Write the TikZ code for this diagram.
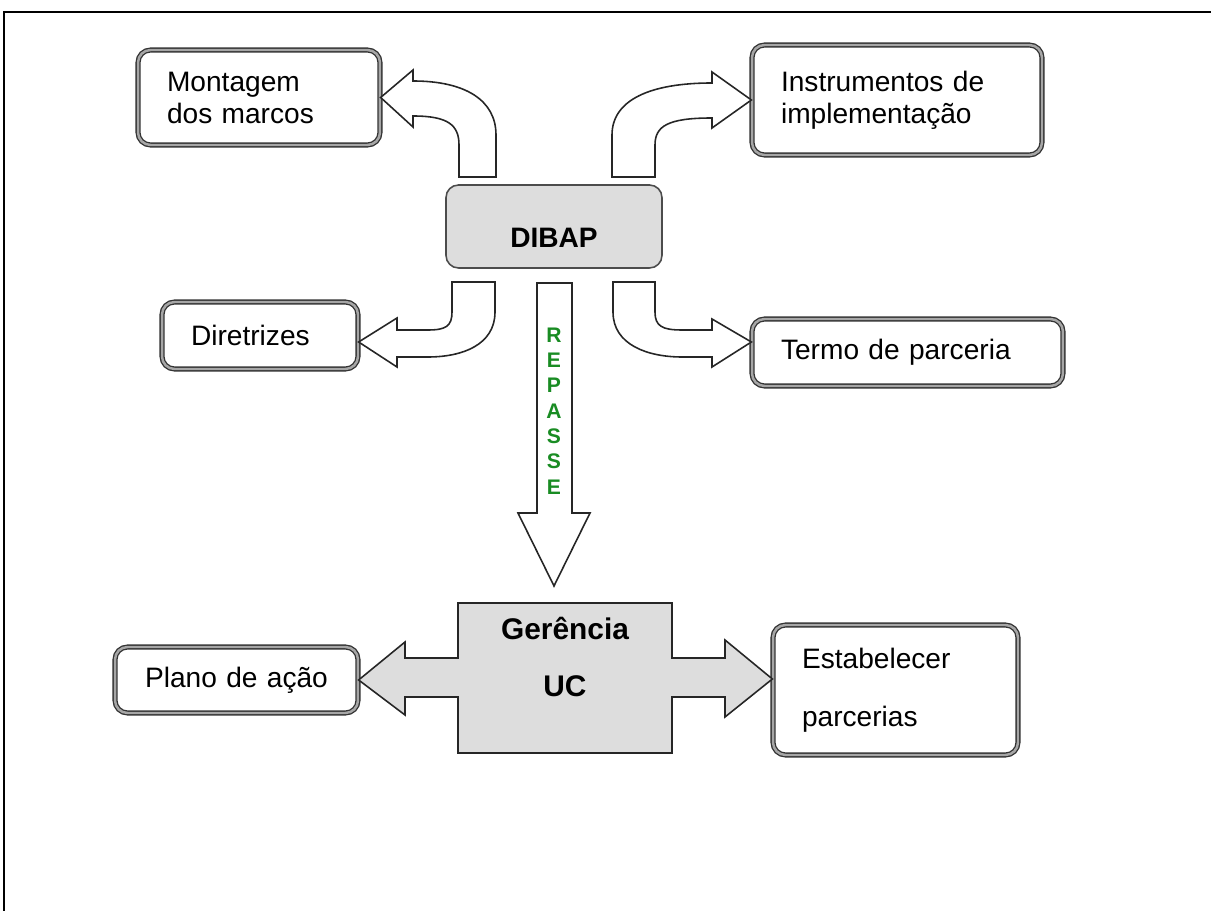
\documentclass[tikz,border=0pt]{standalone}
\usepackage{fontspec}
\setmainfont{Liberation Sans}
\usetikzlibrary{calc}
\definecolor{lgray}{RGB}{221,221,221}
\definecolor{rgreen}{RGB}{25,140,35}

\begin{document}
\begin{tikzpicture}[x=0.02cm, y=-0.02cm,
    box/.style={draw=black!80, double=gray!70, double distance=1.4pt, line width=0.75pt, fill=white, rounded corners=0.25cm, inner xsep=0.58cm, inner ysep=0pt, font=\fontsize{16}{18.2}\selectfont, align=left},
    hub/.style={draw=black!70, line width=0.9pt, fill=lgray, rounded corners=0.25cm, font=\bfseries\fontsize{16}{18.2}\selectfont},
    bent/.style={draw=black!85, line width=0.9pt, fill=white},
    cross/.style={draw=black!85, line width=0.9pt, fill=lgray},
    rep/.style={text=rgreen, align=center, font=\bfseries\fontsize{12}{14.4}\selectfont},
]
\useasboundingbox (0,0) rectangle (1211,911);
\draw[line width=1.2pt] (1211,12) -- (4,12) -- (4,911);

\node[box, text width=3.68cm, minimum height=1.9cm] (mont) at (259,97.5) {Montagem\\dos marcos};
\node[box, text width=4.64cm, minimum height=2.2cm] (instr) at (897,100) {Instrumentos de\\implementação};
\node[hub, minimum width=4.32cm, minimum height=1.66cm, text height=0.86cm, text depth=0pt] (dibap) at (554,226.5) {DIBAP};
\node[box, text width=2.76cm, minimum height=1.34cm] (diret) at (260,335.5) {Diretrizes};
\node[box, text width=5.06cm, minimum height=1.34cm] (termo) at (907.5,352.5) {Termo de parceria};
\node[box, text width=3.7cm, minimum height=1.32cm, align=center] (plano) at (236.5,680) {Plano de ação};
\node[box, text width=3.74cm, minimum height=2.6cm] (estab) at (895.5,690) {Estabelecer\\[0.52cm]parcerias};

\draw[bent] (mont.east) -- (413,70) -- (413,81) .. controls (465,81) and (496,100) .. (496,135) -- (496,177) -- (459,177) -- (459,145) .. controls (459,125) and (448,116) .. (413,116) -- (413,127) -- cycle;
\draw[bent] (instr.west) -- (712,72) -- (712,83) .. controls (650,83) and (612,100) .. (612,135) -- (612,177) -- (655,177) -- (655,145) .. controls (655,126) and (668,118) .. (712,118) -- (712,128) -- cycle;
\draw[bent] ($(diret.east)+(0,6.5)$) -- (397,318) -- (397,330) -- (428,330) .. controls (446,330) and (452,326) .. (452,312) -- (452,282) -- (495,282) -- (495,312) .. controls (495,345) and (462,357) .. (428,357) -- (397,357) -- (397,367) -- cycle;
\draw[bent] ($(termo.west)+(0,-10.5)$) -- (712,319) -- (712,330) -- (682,330) .. controls (662,330) and (655,326) .. (655,312) -- (655,282) -- (613,282) -- (613,312) .. controls (613,345) and (648,357) .. (682,357) -- (712,357) -- (712,367) -- cycle;

\draw[bent] (537,283) -- (572,283) -- (572,513) -- (590,513) -- (554,586) -- (518,513) -- (537,513) -- cycle;
\node[rep] (repasse) at (554,411) {R\\E\\P\\A\\S\\S\\E};

\draw[cross] (458,603) -- (672,603) -- (672,658) -- (725,658) -- (725,640) -- ($(estab.west)+(0,-11)$) -- (725,717) -- (725,697) -- (672,697) -- (672,753) -- (458,753) -- (458,697) -- (405,697) -- (405,715) -- (plano.east) -- (405,642) -- (405,658) -- (458,658) -- cycle;
\node[font=\bfseries\fontsize{17}{18.2}\selectfont, align=center] (ger) at (565,657) {Gerência\\[0.52cm]UC};

\end{tikzpicture}
\end{document}
